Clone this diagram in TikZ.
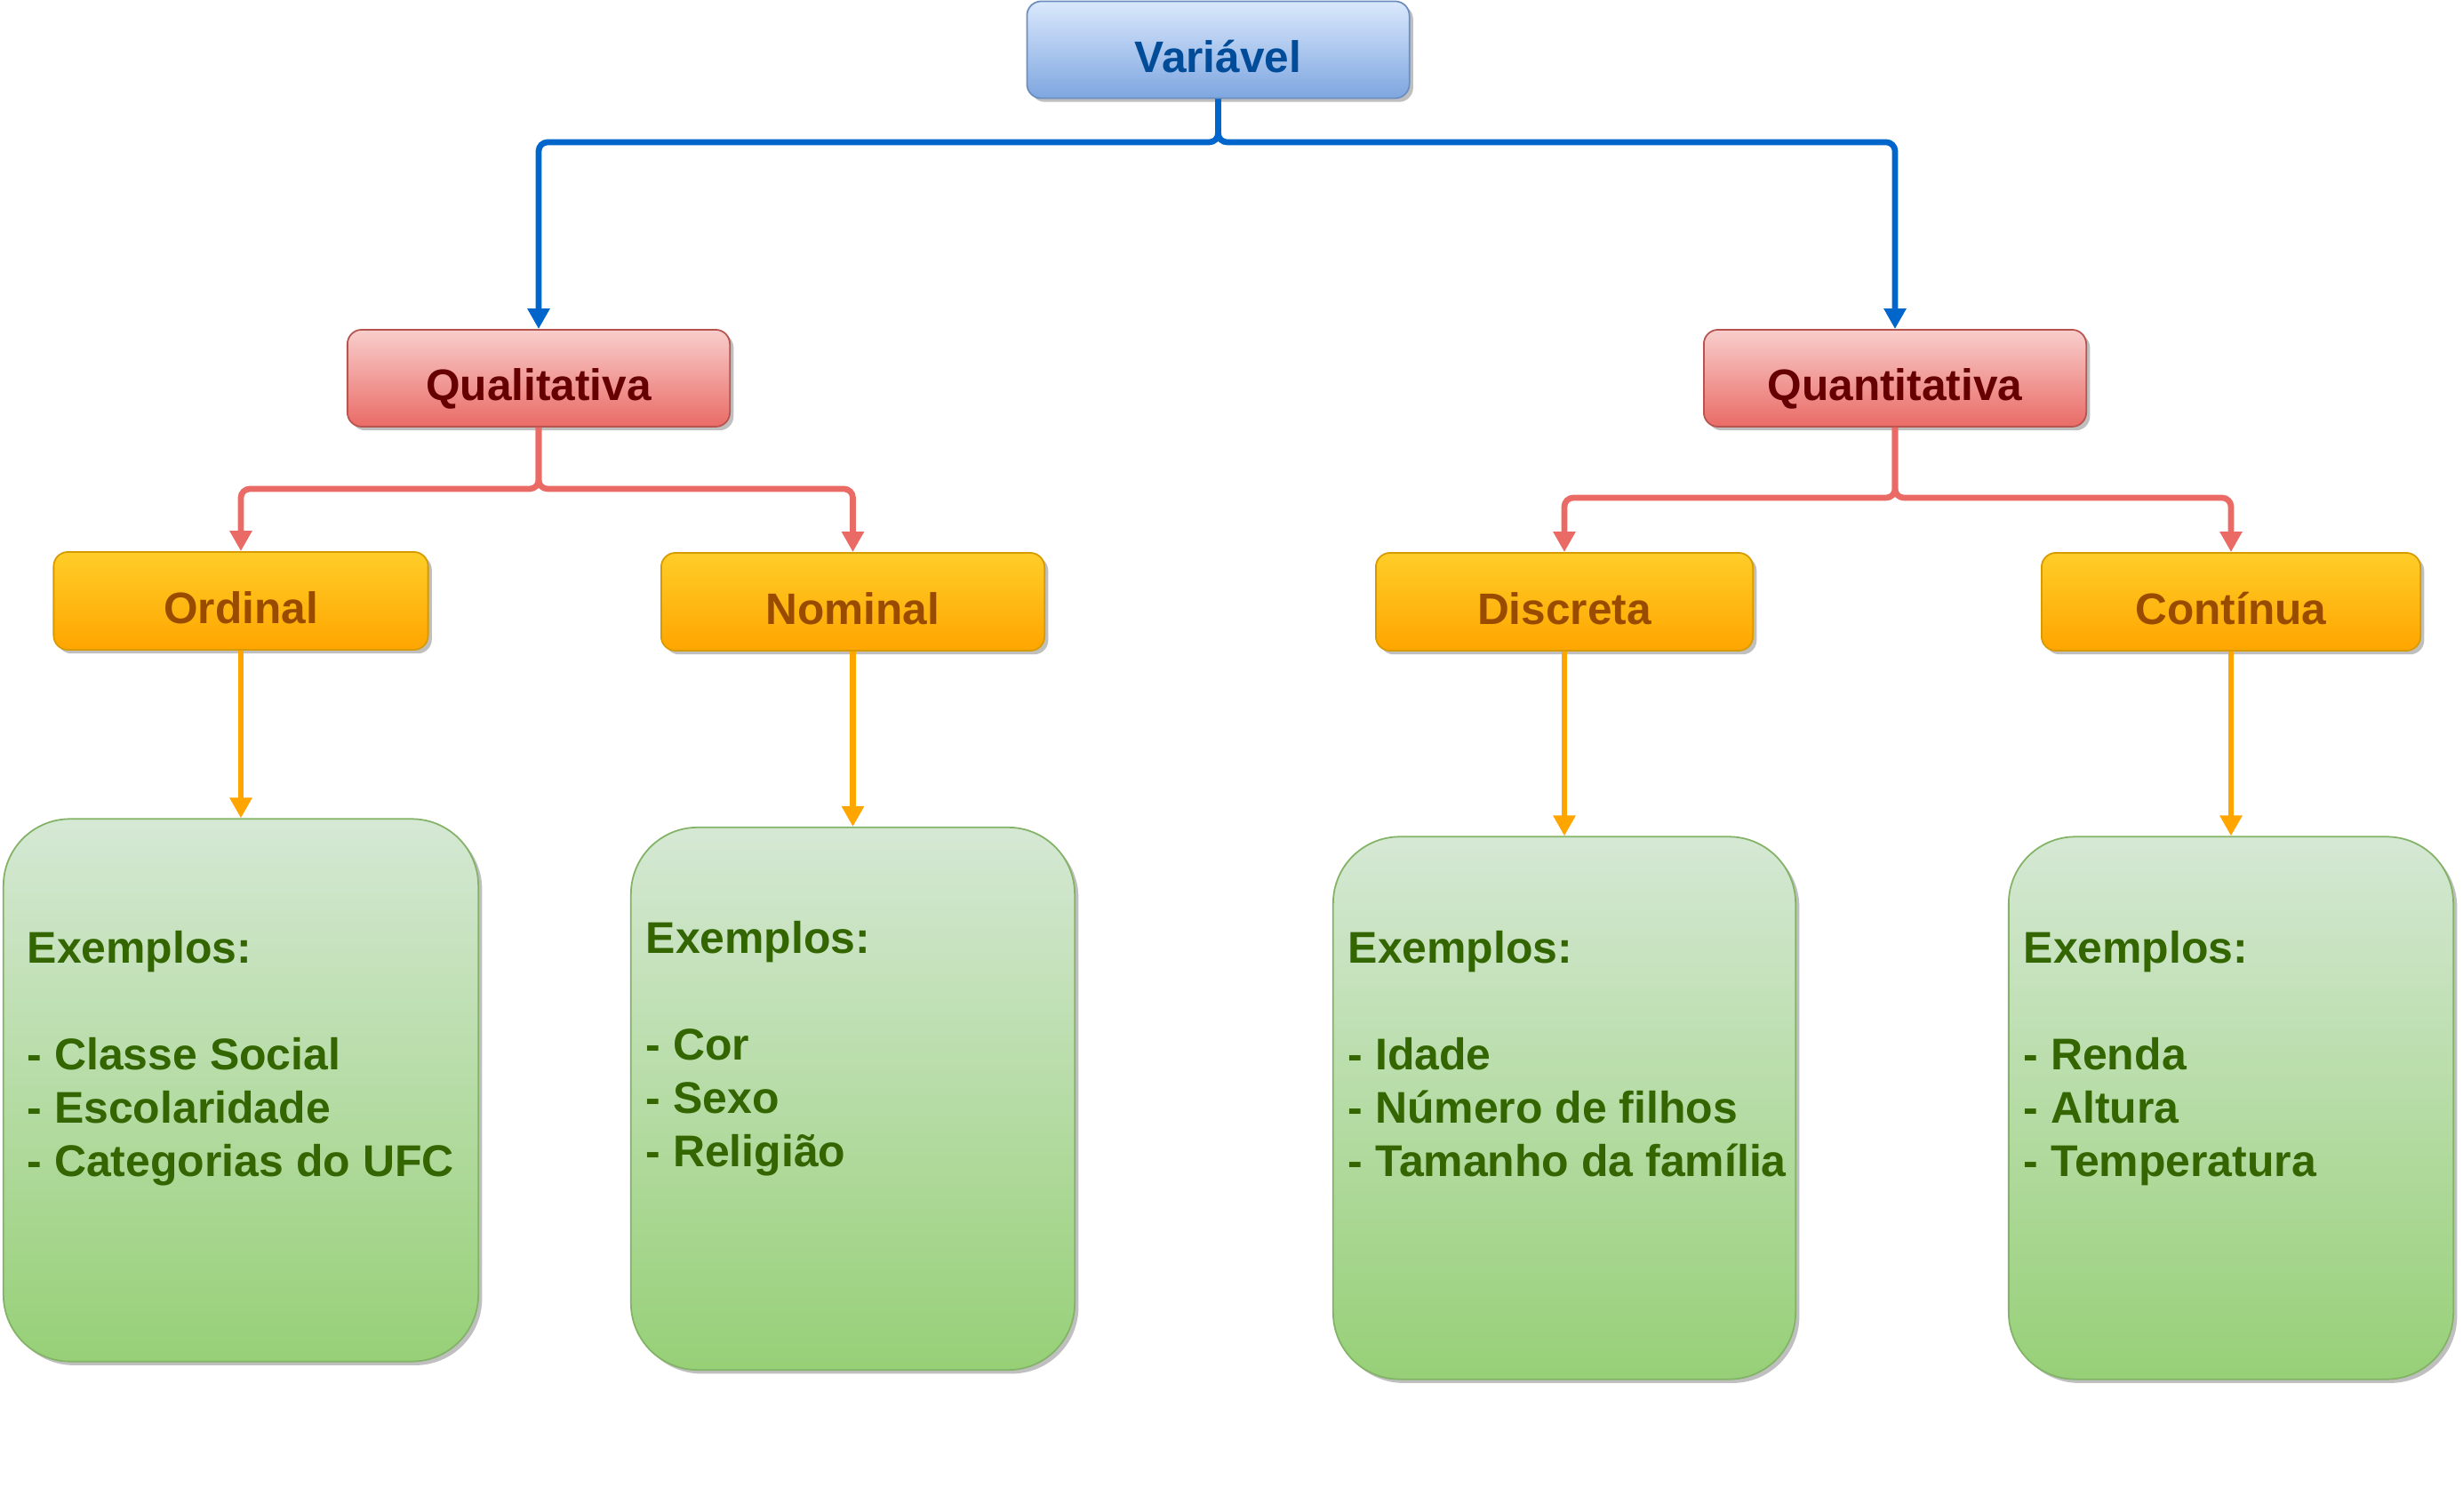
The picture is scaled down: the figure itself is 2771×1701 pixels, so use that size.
\documentclass[tikz,border=0pt]{standalone}
\usepackage{fontspec}
\setmainfont{Liberation Sans}
\usetikzlibrary{arrows.meta,shadows}
\definecolor{blueTop}{HTML}{DAE8FC}
\definecolor{blueBot}{HTML}{7EA6E0}
\definecolor{blueStroke}{HTML}{6C8EBF}
\definecolor{blueText}{HTML}{004C99}
\definecolor{blueLine}{HTML}{0066CC}
\definecolor{redTop}{HTML}{F8CECC}
\definecolor{redBot}{HTML}{EA6B66}
\definecolor{redStroke}{HTML}{B85450}
\definecolor{redText}{HTML}{660000}
\definecolor{redLine}{HTML}{EA6B66}
\definecolor{orTop}{HTML}{FFCD28}
\definecolor{orBot}{HTML}{FFA500}
\definecolor{orStroke}{HTML}{D79B00}
\definecolor{orText}{HTML}{994C00}
\definecolor{orLine}{HTML}{FFA500}
\definecolor{grTop}{HTML}{D5E8D4}
\definecolor{grBot}{HTML}{97D077}
\definecolor{grStroke}{HTML}{82B366}
\definecolor{grText}{HTML}{336600}
\tikzset{
  shad/.style={drop shadow={shadow xshift=1.2pt, shadow yshift=-1.2pt, fill=black, opacity=0.25}},
  hbox/.style={shad, draw, line width=0.5pt, rounded corners=0.16cm, inner sep=0,
    minimum height=1.09cm, text height=0.5cm, text depth=0pt,
    font=\bfseries\fontsize{14.1pt}{16pt}\selectfont},
  bluebox/.style={hbox, minimum width=4.3cm, top color=blueTop, bottom color=blueBot, draw=blueStroke, text=blueText},
  redbox/.style={hbox, minimum width=4.3cm, top color=redTop, bottom color=redBot, draw=redStroke, text=redText},
  orbox/.style={hbox, minimum width=4.25cm, minimum height=1.1cm, top color=orTop, bottom color=orBot, draw=orStroke, text=orText},
  grbox/.style={shad, draw=grStroke, line width=0.5pt, rounded corners=0.75cm, inner sep=0,
    minimum height=6.1cm, top color=grTop, bottom color=grBot},
  gtext/.style={inner sep=0, anchor=base west, align=left, text=grText,
    font=\bfseries\fontsize{14.2pt}{17.07pt}\selectfont},
  conn/.style={line width=1.9pt, rounded corners=0.1cm, -{Triangle[width=0.24cm,length=0.23cm]}},
  blueconn/.style={conn, draw=blueLine},
  redconn/.style={conn, draw=redLine},
  orconn/.style={conn, draw=orLine},
}
\begin{document}
\begin{tikzpicture}[x=0.01cm, y=-0.01cm]
\useasboundingbox (0,0) rectangle (2771,1701);
% green boxes
\node[grbox, minimum width=5.34cm] (g1) at (271,1226.5) {};
\node[grbox, minimum width=4.99cm] (g2) at (959.5,1236) {};
\node[grbox, minimum width=5.2cm] (g3) at (1760,1246.5) {};
\node[grbox, minimum width=5.0cm] (g4) at (2510,1246.5) {};
% text nodes: anchored at the baseline of their last line
\node[gtext] (t1) at (30,1324) {Exemplos:\\\strut\\- Classe Social\\- Escolaridade\\- Categorias do UFC};
\node[gtext] (t2) at (726,1313) {Exemplos:\\\strut\\- Cor\\- Sexo\\- Religião};
\node[gtext] (t3) at (1516,1324) {Exemplos:\\\strut\\- Idade\\- Número de filhos\\- Tamanho da família};
\node[gtext] (t4) at (2276,1324) {Exemplos:\\\strut\\- Renda\\- Altura\\- Temperatura};
% header boxes
\node[bluebox] (var) at (1370.5,56) {Variável};
\node[redbox] (qual) at (606,425.5) {Qualitativa};
\node[redbox] (quant) at (2132,425.5) {Quantitativa};
\node[orbox, minimum width=4.21cm] (ord) at (271,676) {Ordinal};
\node[orbox, minimum width=4.31cm] (nom) at (959.5,677) {Nominal};
\node[orbox, minimum width=4.24cm] (disc) at (1760,677) {Discreta};
\node[orbox, minimum width=4.26cm] (cont) at (2510,677) {Contínua};
% junctions
\coordinate (jv) at (1370.5,160);
\coordinate (jq) at (606,550);
\coordinate (jn) at (2132,560);
% connectors
\draw[blueconn] (var.south) -- (jv) -| (qual.north);
\draw[blueconn] (var.south) -- (jv) -| (quant.north);
\draw[redconn] (qual.south) -- (jq) -| (ord.north);
\draw[redconn] (qual.south) -- (jq) -| (nom.north);
\draw[redconn] (quant.south) -- (jn) -| (disc.north);
\draw[redconn] (quant.south) -- (jn) -| (cont.north);
\draw[orconn] (ord.south) -- (g1.north);
\draw[orconn] (nom.south) -- (g2.north);
\draw[orconn] (disc.south) -- (g3.north);
\draw[orconn] (cont.south) -- (g4.north);
\end{tikzpicture}
\end{document}
